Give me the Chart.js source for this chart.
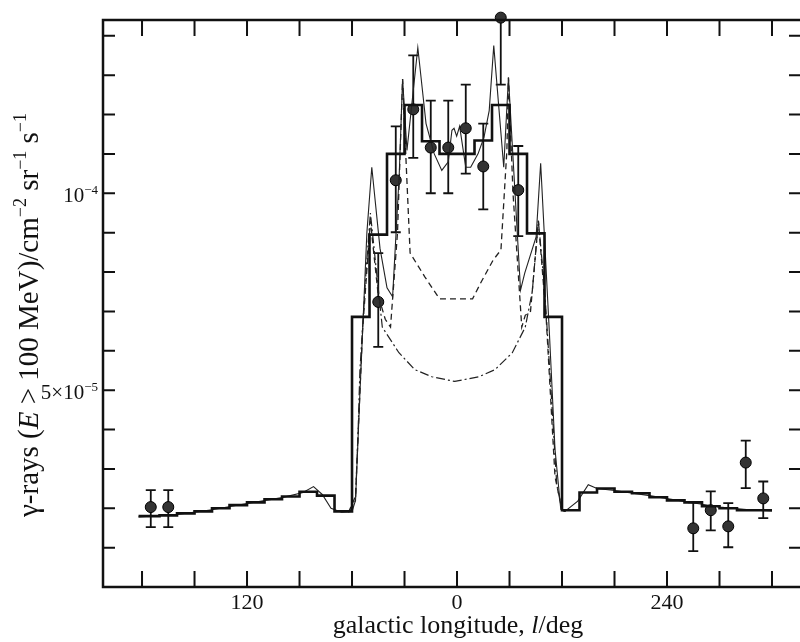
<!DOCTYPE html>
<html>
<head>
<meta charset="utf-8">
<script src="https://cdn.jsdelivr.net/npm/chart.js@4.4.1/dist/chart.umd.min.js"></script>
<style>
  html, body { margin: 0; padding: 0; background: #fff; }
</style>
</head>
<body>
<canvas id="chart" width="800" height="642"></canvas>
<script>
// longitude along the axis: positive to the left of the centre, negative = l - 360 on the right
// flux in units of 1e-5 cm^-2 sr^-1 s^-1

// observed histogram (bin edges and flux per bin)
const histEdges = [182, 170, 160, 150, 140, 130, 120, 110, 100, 90, 80, 70, 60,
  50, 40, 30, 20, 10, -10, -20, -30, -40, -50, -60,
  -70, -80, -90, -100, -110, -120, -130, -140, -150, -160, -180];
const histFlux = [1.80, 1.82, 1.87, 1.92, 2.0, 2.08, 2.15, 2.23, 2.3, 2.42, 2.32, 1.92,
  6.86, 8.95, 11.0, 12.24, 11.32, 11.0, 11.34, 12.24, 11.0, 8.98, 6.86,
  1.95, 2.4, 2.5, 2.42, 2.38, 2.28, 2.2, 2.15, 2.05, 2.0, 1.95];

// thin solid model curve
const modelALon = [182, 160, 140, 120, 100, 88, 82, 77, 72, 66, 60, 58, 55.6, 51.5, 48.7,
  44, 40, 36.8, 33, 31.1, 28.6, 22.4, 17.7, 13, 8.7, 5, 2.9, 1.7, 0.2, -1.5,
  -5, -7.8, -12, -15.4, -18.4, -21, -26.7, -29.4, -36.3, -38.7, -45.2, -47.8, -52.7, -56, -59.3,
  -62, -69, -75, -80, -90, -110, -130, -150, -170, -180];
const modelAFlux = [1.78, 1.84, 1.96, 2.12, 2.27, 2.4, 2.55, 2.35, 2.0, 1.9, 1.92, 2.2, 4.8, 9.0, 10.66,
  8.6, 7.6, 7.37, 10.5, 12.9, 11.09, 13.7, 11.77, 11.0, 10.58, 10.8, 11.6, 11.65, 11.45, 11.7,
  10.66, 10.66, 11.0, 11.42, 12.1, 13.75, 10.66, 12.94, 7.54, 7.97, 8.89, 10.76, 6.53, 3.5, 1.97,
  1.93, 2.18, 2.6, 2.5, 2.45, 2.32, 2.17, 2.03, 1.95, 1.93];

// dashed model curve
const modelBLon = [62, 58, 54, 49.5, 45, 41, 38, 34, 31.1, 29.2, 26.8, 18.3, 10, -8.9,
  -13.5, -20.6, -25.1, -28.5, -29.4, -32, -37, -39, -42, -46.5, -51, -56, -60, -62];
const modelBFlux = [1.9, 2.3, 6.5, 9.3, 7.4, 6.8, 6.6, 9.0, 12.9, 10.9, 8.48, 7.87, 7.32, 7.32,
  7.72, 8.3, 8.56, 11.09, 12.94, 10.0, 6.6, 6.9, 7.0, 9.3, 6.8, 2.8, 1.95, 1.92];

// dash-dot model curve
const modelCLon = [62, 58, 56.5, 55.5, 52, 49.5, 46, 42.7, 33.2, 24.1, 14.4, 1.3,
  -12.5, -21.7, -31.6, -39, -43, -46.5, -50, -54, -57, -60, -62];
const modelCFlux = [1.9, 2.2, 4.0, 5.5, 8.0, 9.5, 8.0, 6.6, 5.95, 5.52, 5.34, 5.22,
  5.34, 5.52, 5.95, 6.6, 7.5, 9.3, 7.6, 4.8, 2.6, 1.95, 1.92];

// measured points with error bars
const ptLon = [175, 165, 45, 35, 25, 15, 5, -5, -15, -25, -35, -135, -145, -155, -165, -175];
const ptFlux = [2.03, 2.03, 7.24, 10.33, 12.13, 11.16, 11.16, 11.65, 10.68, 14.46, 10.08, 1.49, 1.95, 1.54, 3.16, 2.25];
const ptLow = [1.52, 1.52, 6.10, 9.01, 10.9, 10.0, 10.0, 10.5, 9.59, 12.76, 8.91, 0.91, 1.44, 1.01, 2.51, 1.75];
const ptHigh = [2.46, 2.46, 8.48, 11.7, 13.5, 12.35, 12.35, 12.76, 11.77, 16, 11.2, 2.15, 2.43, 2.13, 3.72, 2.68];

const xTicks = [180, 150, 120, 90, 60, 30, 0, -30, -60, -90, -120, -150, -180];
const xLabelled = [120, 0, -120];
const yTicks = [1, 2, 3, 4, 5, 6, 7, 8, 9, 10, 11, 12, 13, 14];

const serif = "'Liberation Serif', 'DejaVu Serif', serif";

function toXY(xs, ys) {
  return xs.map((x, i) => ({ x: x, y: ys[i] }));
}

const histData = [];
for (let i = 0; i < histFlux.length; i++) {
  histData.push({ x: histEdges[i], y: histFlux[i] });
  histData.push({ x: histEdges[i + 1], y: histFlux[i] });
}

function drawRich(ctx, parts, x, y) {
  let cx = x;
  for (const p of parts) {
    ctx.font = p.font;
    ctx.fillText(p.t, cx, y + (p.dy || 0));
    cx += ctx.measureText(p.t).width;
  }
  return cx - x;
}
function richWidth(ctx, parts) {
  let w = 0;
  for (const p of parts) { ctx.font = p.font; w += ctx.measureText(p.t).width; }
  return w;
}

// error bars under the points
const errorBars = {
  id: 'errorBars',
  beforeDatasetsDraw(chart) {
    const { ctx, chartArea: a, scales: { x, y } } = chart;
    ctx.save();
    ctx.strokeStyle = '#111';
    ctx.lineWidth = 1.8;
    for (let i = 0; i < ptLon.length; i++) {
      const px = x.getPixelForValue(ptLon[i]);
      const hiOut = ptHigh[i] > y.max;
      const top = hiOut ? a.top : y.getPixelForValue(ptHigh[i]);
      const bot = y.getPixelForValue(ptLow[i]);
      ctx.beginPath();
      ctx.moveTo(px, top); ctx.lineTo(px, bot);
      if (!hiOut) { ctx.moveTo(px - 5, top); ctx.lineTo(px + 5, top); }
      ctx.moveTo(px - 5, bot); ctx.lineTo(px + 5, bot);
      ctx.stroke();
    }
    ctx.restore();
  }
};

// frame, inward ticks and the texts
const frame = {
  id: 'frame',
  afterDraw(chart) {
    const { ctx, chartArea: a, scales: { x, y } } = chart;
    ctx.save();
    ctx.strokeStyle = '#111';
    ctx.lineWidth = 2.5;
    ctx.beginPath();
    ctx.moveTo(chart.width, a.top); ctx.lineTo(a.left, a.top);
    ctx.lineTo(a.left, a.bottom); ctx.lineTo(chart.width, a.bottom);
    ctx.stroke();

    ctx.lineWidth = 2;
    ctx.beginPath();
    for (const v of xTicks) {
      const px = x.getPixelForValue(v);
      ctx.moveTo(px, a.bottom); ctx.lineTo(px, a.bottom - 16);
      ctx.moveTo(px, a.top); ctx.lineTo(px, a.top + 16);
    }
    for (const v of yTicks) {
      const py = y.getPixelForValue(v);
      ctx.moveTo(a.left, py); ctx.lineTo(a.left + 12, py);
      ctx.moveTo(a.right, py); ctx.lineTo(a.right - 11, py);
    }
    ctx.stroke();

    ctx.fillStyle = '#111';
    ctx.textBaseline = 'alphabetic';
    const lab = '21px ' + serif;
    const labSup = '13px ' + serif;
    const yLabels = [
      { v: 10, parts: [{ t: '10', font: lab }, { t: '−4', font: labSup, dy: -8 }] },
      { v: 5, parts: [{ t: '5×10', font: lab }, { t: '−5', font: labSup, dy: -8 }] }
    ];
    for (const l of yLabels) {
      const w = richWidth(ctx, l.parts);
      drawRich(ctx, l.parts, a.left - 5 - w, y.getPixelForValue(l.v) + 9);
    }

    const xn = '26px ' + serif;
    const xTitle = [
      { t: 'galactic longitude, ', font: xn },
      { t: 'l', font: 'italic ' + xn },
      { t: '/deg', font: xn }
    ];
    const xw = richWidth(ctx, xTitle);
    drawRich(ctx, xTitle, 458 - xw / 2, 633);

    const yn = '29px ' + serif;
    const ys = '18px ' + serif;
    const yTitle = [
      { t: 'γ-rays (', font: yn },
      { t: 'E', font: 'italic ' + yn },
      { t: ' > 100 MeV)/cm', font: yn },
      { t: '−2', font: ys, dy: -12 },
      { t: ' sr', font: yn },
      { t: '−1', font: ys, dy: -12 },
      { t: ' s', font: yn },
      { t: '−1', font: ys, dy: -12 }
    ];
    const yw = richWidth(ctx, yTitle);
    ctx.translate(38, 315 + yw / 2);
    ctx.rotate(-Math.PI / 2);
    drawRich(ctx, yTitle, 0, 0);
    ctx.restore();
  }
};

new Chart(document.getElementById('chart'), {
  type: 'scatter',
  data: {
    datasets: [
      {
        data: histData, showLine: true, borderColor: '#111', borderWidth: 2.6,
        pointRadius: 0, tension: 0
      },
      {
        data: toXY(modelALon, modelAFlux), showLine: true, borderColor: '#222', borderWidth: 1.1,
        pointRadius: 0, tension: 0
      },
      {
        data: toXY(modelBLon, modelBFlux), showLine: true, borderColor: '#222', borderWidth: 1.3,
        borderDash: [6, 4], pointRadius: 0, tension: 0
      },
      {
        data: toXY(modelCLon, modelCFlux), showLine: true, borderColor: '#222', borderWidth: 1.2,
        borderDash: [9, 3, 2, 3], pointRadius: 0, tension: 0
      },
      {
        data: toXY(ptLon, ptFlux), pointRadius: 5.5, pointBackgroundColor: '#333',
        pointBorderColor: '#000', pointBorderWidth: 1, clip: false
      }
    ]
  },
  options: {
    responsive: false,
    animation: false,
    layout: { autoPadding: false, padding: { top: 20, right: 0, left: 0, bottom: 0 } },
    plugins: { legend: { display: false }, tooltip: { enabled: false } },
    scales: {
      x: {
        type: 'linear', min: -196, max: 202.3, reverse: true,
        grid: { display: false, drawTicks: false }, border: { display: false },
        afterBuildTicks: s => { s.ticks = xTicks.map(v => ({ value: v })); },
        afterFit: s => { s.height = 55; },
        ticks: {
          autoSkip: false, maxRotation: 0, padding: 3, color: '#111',
          font: { family: serif, size: 22 },
          callback: v => xLabelled.includes(v) ? String((v + 360) % 360) : ''
        }
      },
      y: {
        type: 'linear', min: 0, max: 14.4,
        grid: { display: false, drawTicks: false }, border: { display: false },
        afterBuildTicks: s => { s.ticks = yTicks.map(v => ({ value: v })); },
        afterFit: s => { s.width = 103; },
        ticks: { display: false }
      }
    }
  },
  plugins: [errorBars, frame]
});
</script>
</body>
</html>
